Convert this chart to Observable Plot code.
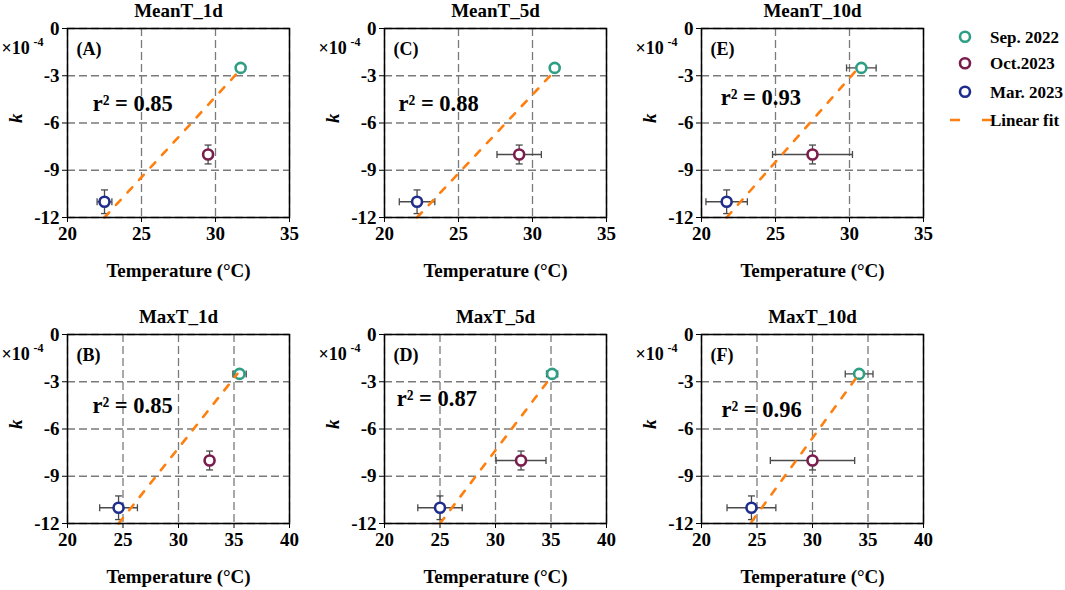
<!DOCTYPE html>
<html>
<head>
<meta charset="utf-8">
<script src="https://cdn.jsdelivr.net/npm/d3@7"></script>
<script src="https://cdn.jsdelivr.net/npm/@observablehq/plot@0.6"></script>
<style>
  html, body { margin: 0; padding: 0; background: #fff; }
  #chart { position: relative; width: 1065px; height: 590px; font-family: "Liberation Serif", "Times New Roman", serif; }
  #chart svg g[aria-label$="tick label"] { font-size: 19px; font-weight: bold; }
</style>
</head>
<body>
<div id="chart"></div>
<script>
// ---------- data ----------
const panelTitles = ["MeanT_1d", "MeanT_5d", "MeanT_10d", "MaxT_1d", "MaxT_5d", "MaxT_10d"];
const panelLetters = ["(A)", "(C)", "(E)", "(B)", "(D)", "(F)"];
const r2Values = [0.85, 0.88, 0.93, 0.85, 0.87, 0.96];
const campaigns = ["Sep. 2022", "Oct.2023", "Mar. 2023"];
const campaignColors = ["#2e9e84", "#7a1c4c", "#1f2d8c"];
const kValues = [-2.5, -8.0, -11.0];      // ×10^-4
const kErr = [0.2, 0.6, 0.75];

const tMeanT1d = [31.7, 29.5, 22.5];   const tErrMeanT1d = [0.3, 0.3, 0.5];
const tMeanT5d = [31.5, 29.1, 22.2];   const tErrMeanT5d = [0.3, 1.5, 1.2];
const tMeanT10d = [30.8, 27.5, 21.7];  const tErrMeanT10d = [1.0, 2.7, 1.4];
const tMaxT1d = [35.5, 32.8, 24.6];    const tErrMaxT1d = [0.6, 0.3, 1.7];
const tMaxT5d = [35.1, 32.3, 25.0];    const tErrMaxT5d = [0.5, 2.25, 2.0];
const tMaxT10d = [34.2, 30.0, 24.5];   const tErrMaxT10d = [1.25, 3.8, 2.2];
const panelTemps = [tMeanT1d, tMeanT5d, tMeanT10d, tMaxT1d, tMaxT5d, tMaxT10d];
const panelTempErrs = [tErrMeanT1d, tErrMeanT5d, tErrMeanT10d, tErrMaxT1d, tErrMaxT5d, tErrMaxT10d];

// linear fit end points
const fitX0 = [22.5, 22.2, 21.7, 24.6, 25.0, 24.5];
const fitY0 = [-12, -12, -12, -12, -12, -11.9];
const fitX1 = [31.7, 31.6, 30.7, 35.3, 35.0, 34.1];
const fitY1 = [-2.6, -2.6, -2.4, -2.5, -2.7, -2.6];

// r² label anchor (data units)
const r2LabelX = [21.7, 20.95, 21.3, 22.25, 21.1, 21.8];
const r2LabelY = [-4.76, -4.76, -4.41, -4.52, -4.1, -4.77];

const meanTempTicks = [20, 25, 30, 35];
const maxTempTicks = [20, 25, 30, 35, 40];
const kTicks = [0, -3, -6, -9, -12];

// ---------- layout ----------
const FONT = '"Liberation Serif", "Times New Roman", serif';
const colLeft = [0, 317, 634];
const rowTop = [0, 306];
const hCap = {draw(ctx, size) { const r = Math.sqrt(size / Math.PI); ctx.moveTo(-r, 0); ctx.lineTo(r, 0); }};
const vCap = {draw(ctx, size) { const r = Math.sqrt(size / Math.PI); ctx.moveTo(0, -r); ctx.lineTo(0, r); }};
const errColor = "#4a4a4a";

const chart = document.getElementById("chart");

panelTitles.forEach((title, p) => {
  const isMax = p >= 3;
  const xTicks = isMax ? maxTempTicks : meanTempTicks;
  const rows = campaigns.map((c, i) => ({
    campaign: c, t: panelTemps[p][i], tErr: panelTempErrs[p][i], k: kValues[i], kErr: kErr[i]
  }));
  const fit = [{x: fitX0[p], y: fitY0[p]}, {x: fitX1[p], y: fitY1[p]}];

  const plot = Plot.plot({
    width: 301,
    height: 290,
    marginLeft: 67,
    marginRight: 12,
    marginTop: 28,
    marginBottom: 73,
    style: {fontFamily: FONT, fontSize: "19px", fontWeight: "bold", color: "#000", background: "transparent", overflow: "visible"},
    x: {domain: [xTicks[0], xTicks[xTicks.length - 1]]},
    y: {domain: [-12, 0]},
    color: {domain: campaigns, range: campaignColors},
    marks: [
      Plot.gridX(xTicks, {stroke: "#7a7a7a", strokeOpacity: 1, strokeWidth: 1.3, strokeDasharray: "8,4"}),
      Plot.gridY(kTicks, {stroke: "#7a7a7a", strokeOpacity: 1, strokeWidth: 1.3, strokeDasharray: "8,4"}),
      Plot.axisX({ticks: xTicks, tickSize: 5, tickPadding: 4, label: null}),
      Plot.axisY({ticks: kTicks, tickSize: 5, tickPadding: 3, tickFormat: d => String(d), label: null}),
      // error bars
      Plot.link(rows, {x1: d => d.t - d.tErr, x2: d => d.t + d.tErr, y1: "k", y2: "k", stroke: errColor, strokeWidth: 1.3}),
      Plot.link(rows, {x1: "t", x2: "t", y1: d => d.k - d.kErr, y2: d => d.k + d.kErr, stroke: errColor, strokeWidth: 1.3}),
      Plot.dot(rows, {x: d => d.t - d.tErr, y: "k", symbol: vCap, r: 3.5, stroke: errColor, fill: "none", strokeWidth: 1.3}),
      Plot.dot(rows, {x: d => d.t + d.tErr, y: "k", symbol: vCap, r: 3.5, stroke: errColor, fill: "none", strokeWidth: 1.3}),
      Plot.dot(rows, {x: "t", y: d => d.k - d.kErr, symbol: hCap, r: 3.5, stroke: errColor, fill: "none", strokeWidth: 1.3}),
      Plot.dot(rows, {x: "t", y: d => d.k + d.kErr, symbol: hCap, r: 3.5, stroke: errColor, fill: "none", strokeWidth: 1.3}),
      // points
      Plot.dot(rows, {x: "t", y: "k", r: 5, stroke: "campaign", fill: "white", strokeWidth: 2.6}),
      // linear fit
      Plot.line(fit, {x: "x", y: "y", stroke: "#ff7f0e", strokeWidth: 2.6, strokeDasharray: "7,10"}),
      Plot.frame({stroke: "#000", strokeWidth: 1.5}),
      // texts
      Plot.text([title], {text: d => d, frameAnchor: "top", lineAnchor: "middle", dy: -18, fontSize: 19, fontWeight: "bold"}),
      Plot.text(["Temperature (\u00B0C)"], {text: d => d, frameAnchor: "bottom", lineAnchor: "middle", dy: 53, fontSize: 19, fontWeight: "bold"}),
      Plot.text(["k"], {text: d => d, frameAnchor: "left", lineAnchor: "middle", dx: -52, rotate: -90, fontSize: 19, fontStyle: "italic", fontWeight: "bold"}),
      Plot.text(["\u00D710"], {text: d => d, frameAnchor: "top-left", lineAnchor: "middle", textAnchor: "start", dx: -66, dy: 20, fontSize: 18, fontWeight: "bold"}),
      Plot.text(["-4"], {text: d => d, frameAnchor: "top-left", lineAnchor: "middle", textAnchor: "start", dx: -34, dy: 14, fontSize: 12, fontWeight: "bold"}),
      Plot.text([panelLetters[p]], {text: d => d, frameAnchor: "top-left", lineAnchor: "middle", textAnchor: "start", dx: 9, dy: 20.5, fontSize: 18, fontWeight: "bold"}),
      Plot.text([r2Values[p]], {x: () => r2LabelX[p], y: () => r2LabelY[p], text: d => "r\u00B2 = " + d.toFixed(2), textAnchor: "start", lineAnchor: "middle", fontSize: 22.5, fontWeight: "bold"})
    ]
  });
  plot.style.position = "absolute";
  plot.style.left = colLeft[p % 3] + "px";
  plot.style.top = rowTop[Math.floor(p / 3)] + "px";
  chart.appendChild(plot);
});

// ---------- legend ----------
const legend = d3.create("svg")
  .attr("width", 125).attr("height", 120)
  .style("left", "940px").style("top", "20px").style("position", "absolute")
  .style("font-family", FONT).style("font-weight", "bold").style("font-size", "17px");
const legendY = [16.7, 43.3, 71.7];
campaigns.forEach((c, i) => {
  legend.append("circle").attr("cx", 25).attr("cy", legendY[i]).attr("r", 5)
    .attr("fill", "white").attr("stroke", campaignColors[i]).attr("stroke-width", 2.6);
  legend.append("text").attr("x", 50).attr("y", legendY[i]).attr("dy", "0.35em").text(c);
});
legend.append("line").attr("x1", 10).attr("x2", 52).attr("y1", 100).attr("y2", 100)
  .attr("stroke", "#ff7f0e").attr("stroke-width", 2.6).attr("stroke-dasharray", "10,22");
legend.append("text").attr("x", 50).attr("y", 100).attr("dy", "0.35em").text("Linear fit");
chart.appendChild(legend.node());
</script>
</body>
</html>
